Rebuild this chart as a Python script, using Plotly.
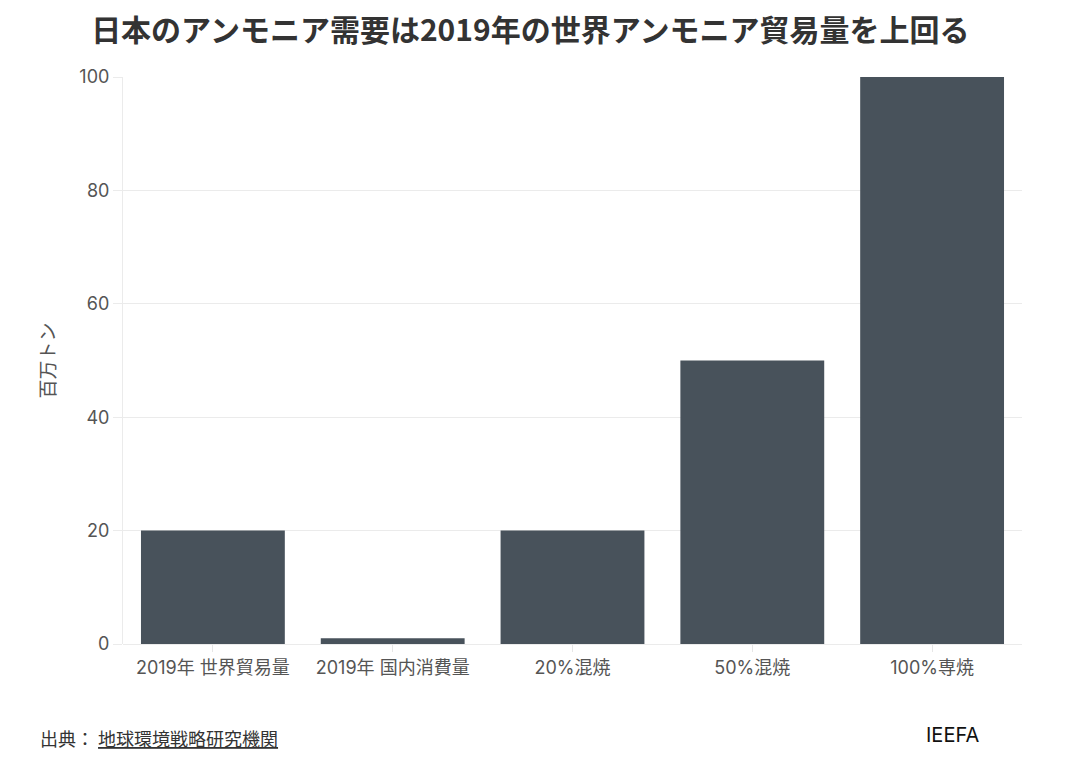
import plotly.graph_objects as go

# データ
categories = ["2019年 世界貿易量", "2019年 国内消費量", "20%混焼", "50%混焼", "100%専焼"]
values = [20, 1, 20, 50, 100]
y_ticks = [0, 20, 40, 60, 80, 100]

font_family = "Inter, Noto Sans CJK JP, sans-serif"

fig = go.Figure()

fig.add_trace(go.Bar(
    x=categories,
    y=values,
    marker_color="#48525b",
    marker_line_width=0,
    hoverinfo="x+y"
))

fig.update_layout(
    width=1066,
    height=766,
    margin=dict(l=115, r=52, t=69, b=130),
    paper_bgcolor="white",
    plot_bgcolor="white",
    bargap=0.2,
    showlegend=False,
    font=dict(family=font_family, color="#555555", size=18),
    title=dict(
        text="<b>日本のアンモニア需要は2019年の世界アンモニア貿易量を上回る</b>",
        x=0.49, xanchor="center",
        y=0.971, yanchor="middle",
        font=dict(family="Noto Sans CJK JP, Inter, sans-serif", size=30, color="#333333")
    ),
    xaxis=dict(
        showgrid=False,
        ticks="outside",
        ticklen=7,
        tickcolor="#e6e6e6",
        tickfont=dict(size=18, color="#555555"),
        showline=False,
    ),
    yaxis=dict(
        title=dict(text="百万トン", font=dict(size=19, color="#555555"), standoff=18),
        range=[0, 100],
        tickvals=y_ticks,
        showgrid=True,
        gridcolor="#ebebeb",
        gridwidth=1,
        zeroline=True,
        zerolinecolor="#ebebeb",
        zerolinewidth=1,
        showline=True,
        linecolor="#ebebeb",
        ticks="outside",
        ticklen=9,
        tickcolor="#ebebeb",
        tickfont=dict(size=18, color="#555555"),
    ),
)

fig.add_annotation(
    text="出典： <u>地球環境戦略研究機関</u>",
    xref="paper", yref="paper",
    x=-0.0945, y=-0.166,
    xanchor="left", yanchor="middle",
    showarrow=False,
    font=dict(family="Noto Sans CJK JP, sans-serif", size=18, color="#333333")
)

fig.add_annotation(
    text="IEEFA",
    xref="paper", yref="paper",
    x=0.923, y=-0.16,
    xanchor="center", yanchor="middle",
    showarrow=False,
    font=dict(family=font_family, size=20, color="#111111")
)

fig.write_html("out.html")
